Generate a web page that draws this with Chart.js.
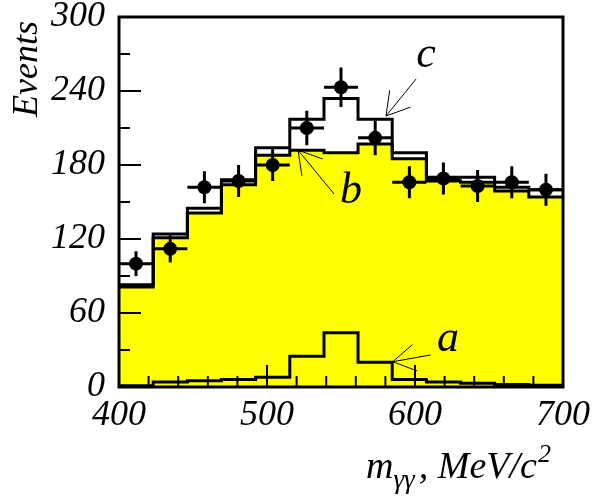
<!DOCTYPE html>
<html>
<head>
<meta charset="utf-8">
<script src="https://cdn.jsdelivr.net/npm/chart.js"></script>
<style>
body { margin: 0; background: #fff; }
</style>
</head>
<body>
<canvas id="myChart" width="597" height="502"></canvas>
<script>
// bins of m_gg (MeV/c^2)
var binEdges = [400, 423.1, 446.2, 469.2, 492.3, 515.4, 538.5, 561.5, 584.6, 607.7, 630.8, 653.8, 676.9, 700]
var binCenters = [411.5, 434.6, 457.7, 480.8, 503.8, 526.9, 550, 573.1, 596.2, 619.2, 642.3, 665.4, 688.5]

// data points and their errors
var events = [100, 112, 162, 167, 180, 210, 243, 202, 166, 169, 163, 166, 160]
var eventErrors = [10, 11, 13, 13, 13, 14, 16, 14, 13, 13, 13, 13, 13]

// histograms a, b, c
var histC = [83, 124, 145, 168, 194, 217, 234, 217, 190, 170, 170, 162, 160]
var histB = [81, 121, 141, 164, 188, 192, 190, 197, 185, 167, 166, 159, 154]
var histA = [1, 4, 5, 6, 8, 25, 44, 20, 6, 4, 3, 2, 1.5]

var yTickLabels = [0, 60, 120, 180, 240, 300]
var xTickLabels = [400, 500, 600, 700]

// arrows pointing at the curves (data coordinates)
var arrowNames = ['a', 'b', 'c']
var arrowTips = [[585, 20.5], [521, 192], [580.4, 219.7]]
var arrowTails = [[610.6, 26], [545.3, 156.5], [600.7, 249.7]]
var arrowText = [[622.3, 29.4], [556.8, 149.2], [607.4, 259.7]]

var serif = '"Liberation Serif", "Times New Roman", serif'


function steps(values) {
	let pts = []
	values.forEach((v, i) => {
		pts.push({ x: binEdges[i], y: v })
	})
	pts.push({ x: binEdges[binEdges.length - 1], y: values[values.length - 1] })
	return pts
}


var decor = {
	id: 'decor',
	afterDatasetsDraw(chart) {
		let ctx = chart.ctx
		let area = chart.chartArea
		let xs = chart.scales.x
		let ys = chart.scales.y

		ctx.save()
		ctx.strokeStyle = '#000'
		ctx.fillStyle = '#000'

		// error bars
		ctx.lineWidth = 3
		binCenters.forEach((c, i) => {
			let px = xs.getPixelForValue(c)
			let py = ys.getPixelForValue(events[i])
			ctx.beginPath()
			ctx.moveTo(px, ys.getPixelForValue(events[i] - eventErrors[i]))
			ctx.lineTo(px, ys.getPixelForValue(events[i] + eventErrors[i]))
			ctx.moveTo(xs.getPixelForValue(binEdges[i]), py)
			ctx.lineTo(xs.getPixelForValue(binEdges[i + 1]), py)
			ctx.stroke()
		})

		// inner ticks
		ctx.lineWidth = 2
		ys.ticks.forEach(t => {
			let py = ys.getPixelForValue(t.value)
			let len = yTickLabels.includes(t.value) ? 22 : 11
			ctx.beginPath()
			ctx.moveTo(area.left, py)
			ctx.lineTo(area.left + len, py)
			ctx.stroke()
		})
		xs.ticks.forEach(t => {
			let px = xs.getPixelForValue(t.value)
			let len = xTickLabels.includes(t.value) ? 22 : 11
			ctx.beginPath()
			ctx.moveTo(px, area.bottom)
			ctx.lineTo(px, area.bottom - len)
			ctx.stroke()
		})

		// frame
		ctx.lineWidth = 3
		ctx.strokeRect(area.left, area.top, area.right - area.left, area.bottom - area.top)

		// arrows and their letters
		ctx.lineWidth = 1
		ctx.font = 'italic 44px ' + serif
		ctx.textAlign = 'center'
		ctx.textBaseline = 'alphabetic'
		arrowNames.forEach((name, i) => {
			let tx = xs.getPixelForValue(arrowTips[i][0])
			let ty = ys.getPixelForValue(arrowTips[i][1])
			let sx = xs.getPixelForValue(arrowTails[i][0])
			let sy = ys.getPixelForValue(arrowTails[i][1])
			let ang = Math.atan2(sy - ty, sx - tx)
			ctx.beginPath()
			ctx.moveTo(sx, sy)
			ctx.lineTo(tx, ty)
			ctx.moveTo(tx + 26 * Math.cos(ang + 0.54), ty + 26 * Math.sin(ang + 0.54))
			ctx.lineTo(tx, ty)
			ctx.lineTo(tx + 26 * Math.cos(ang - 0.54), ty + 26 * Math.sin(ang - 0.54))
			ctx.stroke()
			ctx.fillText(name, xs.getPixelForValue(arrowText[i][0]), ys.getPixelForValue(arrowText[i][1]))
		})

		// y title
		ctx.save()
		ctx.translate(area.left - 82, 69)
		ctx.rotate(-Math.PI / 2)
		ctx.font = 'italic 36px ' + serif
		ctx.fillText('Events', 0, 0)
		ctx.restore()

		// x title: m_gg , MeV/c^2
		let x = 366
		let base = 478
		ctx.textAlign = 'left'
		ctx.font = 'italic 38px ' + serif
		ctx.fillText('m', x, base)
		x += ctx.measureText('m').width
		ctx.font = 'italic 27px ' + serif
		ctx.fillText('\u03B3\u03B3', x, base + 10)
		x += ctx.measureText('\u03B3\u03B3').width + 4
		ctx.font = 'italic 38px ' + serif
		ctx.fillText(', MeV/c', x, base)
		x += ctx.measureText(', MeV/c').width
		ctx.font = 'italic 26px ' + serif
		ctx.fillText('2', x + 1, base - 16)

		ctx.restore()
	}
}


var ctx = document.getElementById('myChart').getContext('2d')
var chart = new Chart(ctx, {
	type: 'scatter',
	data: {
		datasets: [{
			type: 'line',
			label: 'a',
			data: steps(histA),
			stepped: true,
			borderColor: '#000',
			borderWidth: 3,
			pointRadius: 0,
			fill: false,
			order: 1
		}, {
			type: 'line',
			label: 'c',
			data: steps(histC),
			stepped: true,
			borderColor: '#000',
			borderWidth: 3,
			pointRadius: 0,
			fill: false,
			order: 2
		}, {
			type: 'line',
			label: 'b',
			data: steps(histB),
			stepped: true,
			borderColor: '#000',
			borderWidth: 3,
			backgroundColor: '#ffff00',
			pointRadius: 0,
			fill: 'origin',
			order: 3
		}, {
			label: 'data',
			data: binCenters.map((c, i) => ({ x: c, y: events[i] })),
			pointRadius: 7,
			pointBackgroundColor: '#000',
			pointBorderColor: '#000',
			pointBorderWidth: 0,
			order: 0
		}]
	},
	options: {
		responsive: false,
		animation: false,
		devicePixelRatio: 1,
		layout: { padding: { left: 0, top: 17, right: 34, bottom: 0 } },
		plugins: {
			legend: { display: false },
			tooltip: { enabled: false }
		},
		scales: {
			x: {
				type: 'linear',
				min: 400,
				max: 700,
				grid: { display: false, drawTicks: false },
				border: { display: false },
				ticks: {
					stepSize: 20,
					autoSkip: false,
					maxRotation: 0,
					padding: 7,
					color: '#000',
					font: { family: serif, style: 'italic', size: 36 },
					callback: v => xTickLabels.includes(v) ? v : ''
				},
				afterFit: s => { s.height = 115; s.paddingLeft = 0; s.paddingRight = 0 }
			},
			y: {
				min: 0,
				max: 300,
				grid: { display: false, drawTicks: false },
				border: { display: false },
				ticks: {
					stepSize: 30,
					autoSkip: false,
					padding: 14,
					color: '#000',
					font: { family: serif, style: 'italic', size: 36 },
					callback: v => yTickLabels.includes(v) ? v : ''
				},
				afterFit: s => { s.width = 119; s.paddingTop = 0; s.paddingBottom = 0 }
			}
		}
	},
	plugins: [decor]
})
</script>
</body>
</html>
